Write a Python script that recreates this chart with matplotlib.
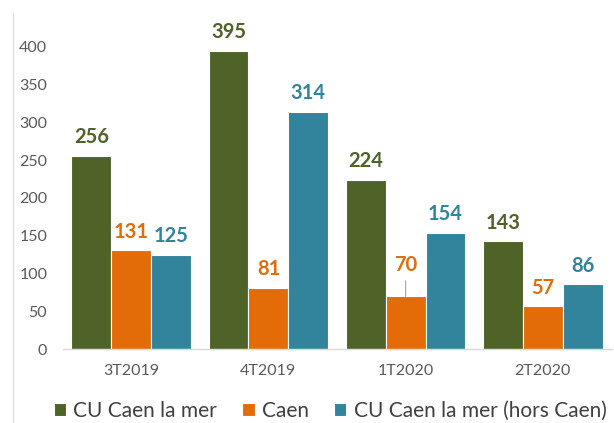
import matplotlib
matplotlib.use("Agg")
import matplotlib.pyplot as plt
from matplotlib.lines import Line2D
import numpy as np

# Data
quarters = ["3T2019", "4T2019", "1T2020", "2T2020"]
cu_caen = [256, 395, 224, 143]
caen = [131, 81, 70, 57]
cu_hors_caen = [125, 314, 154, 86]

series_names = ["CU Caen la mer", "Caen", "CU Caen la mer (hors Caen)"]
colors = ["#4F6228", "#E36C09", "#31849B"]

plt.rcParams['font.family'] = ['Lato', 'DejaVu Sans']

fig = plt.figure(figsize=(6.14, 4.23), dpi=100)
ax = fig.add_axes([62.5 / 614, 74 / 423, 549 / 614, 349 / 423])

x = np.arange(len(quarters))
width = 0.29
offsets = [-width, 0, width]

for vals, name, col, off in zip([cu_caen, caen, cu_hors_caen], series_names, colors, offsets):
    bars = ax.bar(x + off, vals, width, color=col, edgecolor="white", linewidth=0.8, label=name)
    for i, (b, v) in enumerate(zip(bars, vals)):
        cx = b.get_x() + b.get_width() / 2
        if name == "Caen" and quarters[i] == "1T2020":
            # label pushed up with a leader line
            ax.annotate(str(v), xy=(cx, v), xytext=(0, 15), textcoords="offset points",
                        ha="center", va="bottom", fontsize=14.5, fontweight="bold", color=col,
                        arrowprops=dict(arrowstyle="-", color="#a6a6a6", lw=0.8,
                                        shrinkA=2, shrinkB=0))
        else:
            ax.annotate(str(v), xy=(cx, v), xytext=(0, 6), textcoords="offset points",
                        ha="center", va="bottom", fontsize=14.5, fontweight="bold", color=col)

ax.set_xlim(-0.5, 3.5)
ax.set_ylim(0, 462)
ax.set_yticks(range(0, 401, 50))
ax.set_xticks(x)
ax.set_xticklabels(quarters)
ax.tick_params(axis="both", length=0, labelsize=11.5, labelcolor="#595959")
ax.tick_params(axis="y", pad=11)
ax.tick_params(axis="x", pad=11)

for s in ["top", "right", "left"]:
    ax.spines[s].set_visible(False)
ax.spines["bottom"].set_color("#d9d9d9")
ax.spines["bottom"].set_linewidth(1)

# light chart border on the left
fig.add_artist(Line2D([13 / 614, 13 / 614], [0, 1 - 13 / 423], transform=fig.transFigure,
                      color="#d9d9d9", lw=0.8))

fig.legend(loc="center", bbox_to_anchor=(330 / 614, 12 / 423), ncol=3, frameon=False,
           fontsize=15, handlelength=0.6, handleheight=0.6, handletextpad=0.35,
           columnspacing=1.2, borderpad=0, labelcolor="#404040")

fig.savefig("out.png", dpi=100)
